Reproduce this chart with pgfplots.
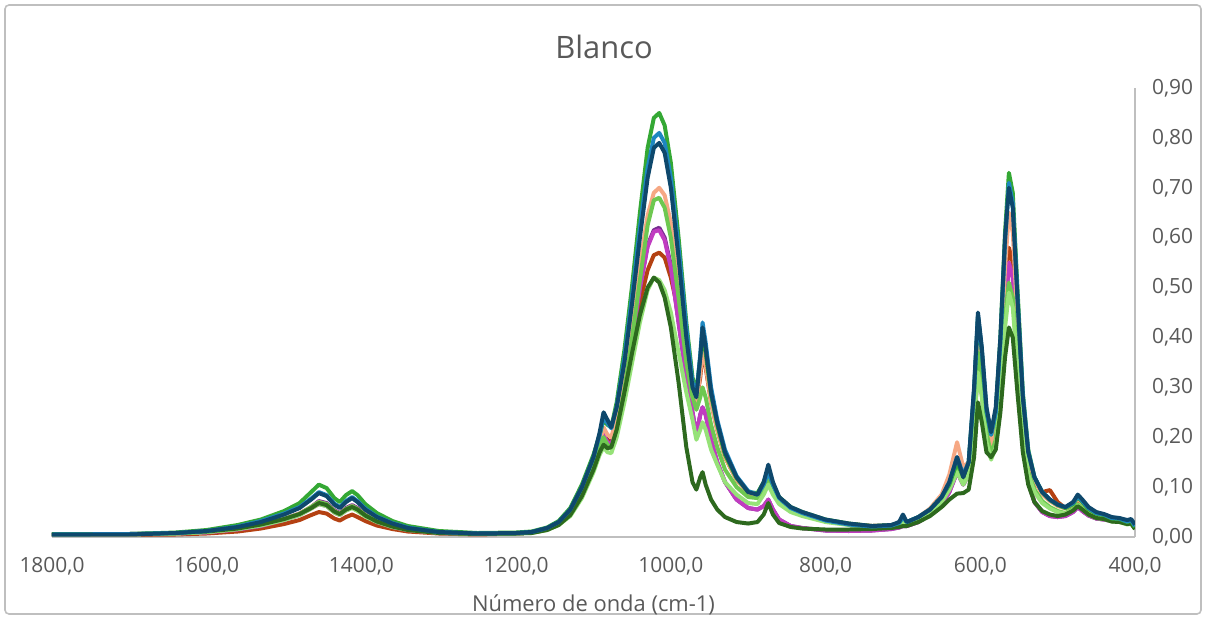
\documentclass[border=0pt]{standalone}
\usepackage{pgfplots}
\pgfplotsset{compat=1.18}
\usepackage{pgfplotstable}
\usepackage{fontspec}
\setmainfont{Open Sans}
\definecolor{cg}{RGB}{52,168,52}
\definecolor{cb}{RGB}{30,135,192}
\definecolor{cn}{RGB}{14,72,108}
\definecolor{cs}{RGB}{246,168,132}
\definecolor{clg}{RGB}{110,200,80}
\definecolor{cpu}{RGB}{120,45,145}
\definecolor{cma}{RGB}{192,60,192}
\definecolor{cbr}{RGB}{180,65,18}
\definecolor{cpg}{RGB}{150,226,120}
\definecolor{cdg}{RGB}{45,105,30}
\definecolor{txt}{RGB}{89,89,89}
\definecolor{axl}{RGB}{191,191,191}
\pgfplotstableread{
x g b n s lg pu ma br pg dg
1800 .006 .005 .005 .005 .005 .005 .004 .004 .005 .005
1700 .006 .006 .005 .006 .005 .005 .005 .004 .005 .006
1640 .009 .008 .008 .007 .007 .007 .007 .005 .007 .008
1600 .014 .012 .012 .010 .010 .010 .009 .007 .010 .011
1560 .024 .021 .020 .016 .016 .016 .015 .011 .016 .017
1530 .035 .032 .030 .024 .024 .024 .022 .017 .023 .025
1500 .052 .047 .045 .036 .036 .036 .034 .026 .034 .036
1480 .068 .060 .058 .047 .046 .047 .044 .034 .044 .046
1465 .090 .077 .075 .060 .060 .060 .057 .044 .057 .058
1455 .105 .090 .088 .070 .070 .072 .066 .050 .066 .068
1445 .098 .084 .082 .066 .066 .068 .062 .047 .062 .064
1435 .078 .067 .065 .052 .052 .054 .049 .037 .049 .051
1428 .070 .060 .058 .047 .046 .048 .044 .033 .044 .046
1420 .084 .072 .070 .056 .056 .058 .053 .040 .053 .055
1412 .092 .080 .078 .062 .062 .064 .059 .045 .058 .060
1405 .084 .072 .070 .056 .056 .058 .053 .040 .052 .055
1395 .066 .057 .055 .044 .044 .046 .042 .032 .041 .043
1380 .048 .041 .040 .032 .032 .033 .030 .023 .030 .031
1360 .032 .028 .027 .022 .022 .022 .020 .016 .020 .021
1340 .022 .019 .018 .015 .015 .015 .014 .011 .014 .014
1300 .012 .010 .010 .009 .009 .009 .008 .007 .008 .008
1250 .008 .007 .007 .007 .006 .006 .006 .005 .006 .006
1200 .009 .008 .008 .008 .007 .007 .007 .007 .007 .007
1180 .011 .010 .010 .010 .009 .009 .009 .009 .008 .008
1160 .019 .018 .018 .017 .016 .016 .016 .016 .014 .014
1145 .032 .030 .030 .028 .027 .027 .027 .028 .024 .024
1130 .058 .055 .055 .050 .048 .048 .048 .052 .042 .044
1115 .105 .100 .100 .092 .088 .088 .088 .095 .078 .082
1100 .165 .160 .160 .150 .142 .142 .142 .150 .130 .135
1092 .205 .205 .210 .190 .180 .180 .180 .185 .165 .170
1087 .235 .240 .250 .220 .200 .205 .205 .205 .180 .185
1082 .225 .228 .235 .205 .185 .190 .190 .195 .170 .178
1077 .220 .218 .220 .200 .178 .185 .185 .190 .168 .180
1070 .270 .262 .260 .240 .215 .220 .220 .225 .200 .215
1060 .375 .360 .350 .325 .295 .300 .300 .300 .270 .290
1050 .505 .485 .470 .430 .400 .395 .395 .385 .350 .370
1040 .650 .620 .600 .545 .515 .500 .498 .470 .430 .445
1030 .780 .740 .720 .645 .625 .585 .582 .535 .495 .500
1022 .840 .800 .780 .690 .675 .615 .612 .565 .520 .520
1015 .850 .810 .790 .700 .680 .620 .615 .570 .515 .510
1008 .825 .790 .770 .685 .660 .600 .595 .560 .495 .480
1000 .750 .720 .700 .630 .600 .545 .540 .520 .450 .420
990 .600 .580 .560 .520 .480 .430 .430 .450 .370 .310
980 .430 .420 .400 .380 .350 .320 .320 .350 .290 .180
972 .320 .310 .300 .280 .280 .250 .250 .280 .235 .110
967 .290 .285 .280 .265 .255 .205 .205 .270 .195 .095
962 .360 .365 .360 .330 .280 .245 .245 .320 .215 .120
959 .400 .430 .420 .370 .300 .260 .260 .370 .230 .130
955 .370 .390 .380 .345 .280 .245 .245 .340 .215 .105
948 .285 .300 .290 .270 .225 .195 .195 .270 .175 .075
940 .225 .235 .230 .215 .180 .150 .150 .215 .145 .055
930 .165 .175 .170 .160 .135 .110 .110 .160 .110 .040
915 .118 .122 .120 .115 .100 .075 .075 .115 .085 .030
900 .090 .092 .090 .088 .080 .058 .058 .088 .068 .027
888 .088 .085 .085 .085 .078 .055 .055 .083 .066 .030
880 .110 .105 .110 .105 .098 .062 .062 .100 .085 .045
874 .135 .130 .145 .125 .120 .075 .075 .118 .105 .068
868 .105 .105 .110 .100 .095 .055 .055 .095 .085 .045
860 .080 .078 .080 .075 .072 .035 .035 .072 .066 .028
845 .060 .058 .060 .057 .055 .022 .022 .055 .050 .020
830 .050 .048 .050 .047 .045 .018 .018 .046 .042 .017
800 .035 .033 .035 .034 .032 .013 .013 .033 .030 .015
770 .027 .025 .027 .026 .025 .012 .012 .026 .024 .015
740 .022 .021 .022 .022 .021 .013 .013 .022 .020 .016
715 .024 .023 .024 .023 .022 .016 .016 .023 .021 .018
705 .028 .028 .030 .026 .025 .019 .019 .026 .024 .020
700 .040 .040 .045 .032 .030 .022 .022 .030 .028 .022
695 .030 .030 .030 .028 .027 .022 .022 .028 .026 .022
680 .040 .040 .040 .040 .035 .030 .030 .038 .033 .030
665 .055 .055 .055 .057 .050 .045 .045 .052 .048 .042
650 .080 .080 .080 .085 .075 .065 .065 .075 .070 .060
640 .105 .110 .110 .125 .100 .090 .090 .100 .095 .075
630 .150 .160 .160 .190 .140 .130 .130 .140 .130 .087
622 .120 .125 .120 .140 .110 .105 .105 .115 .105 .088
615 .150 .150 .150 .150 .130 .125 .125 .140 .125 .095
608 .290 .295 .300 .270 .240 .225 .225 .270 .220 .160
603 .440 .445 .450 .400 .370 .345 .345 .400 .330 .270
598 .370 .375 .380 .340 .310 .290 .290 .340 .280 .230
592 .250 .255 .260 .235 .210 .195 .195 .230 .190 .170
586 .205 .205 .210 .185 .165 .170 .170 .185 .155 .160
580 .250 .250 .260 .220 .195 .190 .190 .215 .180 .175
574 .400 .390 .400 .350 .300 .290 .290 .330 .280 .250
568 .610 .590 .600 .540 .440 .440 .440 .500 .420 .360
563 .730 .710 .700 .650 .510 .550 .550 .580 .490 .420
558 .690 .670 .660 .610 .480 .520 .520 .550 .460 .400
552 .500 .485 .480 .440 .350 .370 .370 .400 .340 .290
545 .290 .285 .280 .260 .210 .200 .200 .240 .200 .170
538 .175 .172 .170 .160 .130 .110 .110 .150 .125 .105
530 .120 .120 .120 .115 .095 .070 .070 .110 .090 .070
520 .090 .090 .090 .085 .072 .050 .050 .090 .068 .052
510 .074 .075 .075 .072 .060 .042 .042 .094 .057 .045
500 .064 .065 .065 .062 .052 .040 .040 .070 .050 .042
490 .058 .060 .060 .057 .048 .042 .042 .058 .047 .045
480 .066 .068 .070 .065 .056 .050 .050 .062 .054 .053
474 .080 .082 .085 .076 .066 .060 .060 .072 .064 .062
468 .070 .072 .075 .068 .058 .052 .052 .064 .056 .055
460 .056 .058 .060 .054 .047 .043 .043 .051 .045 .045
450 .047 .048 .050 .045 .040 .037 .037 .043 .038 .038
440 .044 .045 .046 .042 .038 .035 .035 .040 .036 .036
430 .037 .038 .040 .036 .033 .032 .032 .035 .031 .031
420 .036 .037 .038 .035 .032 .031 .031 .034 .030 .030
410 .030 .031 .034 .030 .027 .028 .028 .030 .025 .026
405 .033 .034 .036 .032 .029 .029 .029 .031 .027 .027
400 .020 .022 .025 .020 .018 .020 .020 .020 .016 .016
}\data
\begin{document}
\begin{tikzpicture}
\useasboundingbox (0,0) rectangle (603bp,309.5bp);
\draw[axl, line width=0.8pt, rounded corners=2bp] (2.5bp,2.5bp) rectangle (600.5bp,307bp);
\node[txt, font=\fontsize{15.5}{18}\selectfont] at (302bp,286bp) {Blanco};
\begin{axis}[
  at={(26bp,41bp)}, anchor=south west,
  scale only axis, width=541.5bp, height=224.5bp,
  x dir=reverse, xmin=400, xmax=1800, ymin=0, ymax=0.9,
  xtick={400,600,...,1800}, ytick={0,0.1,...,0.9},
  axis x line*=bottom, axis y line*=right,
  axis line style={axl, line width=0.8pt, -},
  major tick length=0pt,
  tick label style={txt, font=\fontsize{10.5}{12}\selectfont},
  x tick label style={/pgf/number format/.cd, fixed, fixed zerofill, precision=1, use comma, 1000 sep={}, assume math mode=true},
  y tick label style={/pgf/number format/.cd, fixed, fixed zerofill, precision=2, use comma, assume math mode=true},
  xticklabel shift=6.5bp, yticklabel shift=5bp,
  xlabel={Número de onda (cm-1)},
  xlabel style={txt, font=\fontsize{11}{13}\selectfont, yshift=-3bp},
  clip=true,
  every axis plot/.append style={line width=2pt, line join=round, mark=none},
]
\addplot[cbr] table[x=x,y=br] \data;
\addplot[cpu] table[x=x,y=pu] \data;
\addplot[cma] table[x=x,y=ma] \data;
\addplot[cs] table[x=x,y=s] \data;
\addplot[clg] table[x=x,y=lg] \data;
\addplot[cpg] table[x=x,y=pg] \data;
\addplot[cdg] table[x=x,y=dg] \data;
\addplot[cg] table[x=x,y=g] \data;
\addplot[cb] table[x=x,y=b] \data;
\addplot[cn] table[x=x,y=n] \data;
\end{axis}
\end{tikzpicture}
\end{document}
